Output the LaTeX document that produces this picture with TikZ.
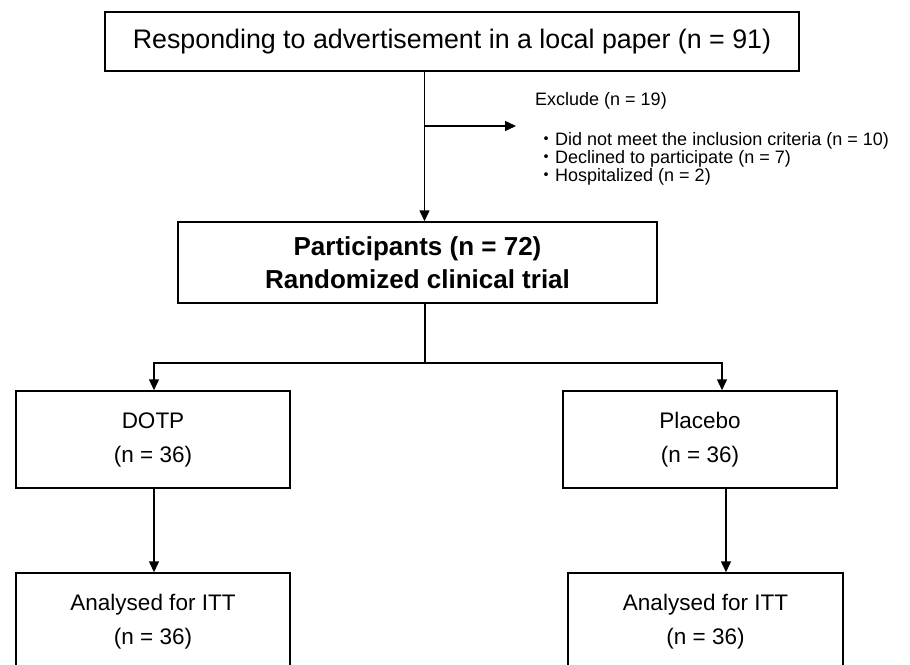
\documentclass[tikz,border=0pt]{standalone}
\usepackage{fontspec}
\setmainfont{Liberation Sans}
\newfontfamily\cjkfont{Noto Sans CJK JP}
\usetikzlibrary{arrows.meta}
\newcommand{\jdot}{\smash{\cjkfont ・}}
\begin{document}
\begin{tikzpicture}[x=1pt,y=-1pt,
  box/.style={draw=black, line width=1.5pt, inner sep=0pt, align=center},
  bigtext/.style={font=\fontsize{26.8}{32}\selectfont},
  boldtext/.style={font=\fontsize{26}{33}\selectfont\bfseries},
  boxtext/.style={font=\fontsize{22.5}{34}\selectfont},
  smalltext/.style={font=\fontsize{18}{18}\selectfont, inner sep=0pt, anchor=base west},
  conn/.style={line width=1.5pt},
  arr/.style={conn, -{Triangle[length=11pt,width=10pt]}}
]
\useasboundingbox (0,0) rectangle (910,664);
\clip (0,0) rectangle (910,664);

% boxes
\node[box, bigtext, minimum width=694pt, minimum height=59pt] (top) at (452,41.5)
  {Responding to advertisement in a local paper (n = 91)};
\node[box, boldtext, minimum width=479pt, minimum height=81pt] (part) at (417.5,262.5)
  {Participants (n = 72)\\Randomized clinical trial};
\node[box, boxtext, minimum width=274pt, minimum height=97pt] (dotp) at (153,439.5)
  {DOTP\\(n = 36)};
\node[box, boxtext, minimum width=274pt, minimum height=97pt] (plac) at (700,439.5)
  {Placebo\\(n = 36)};
\node[box, boxtext, minimum width=274pt, minimum height=97pt] (itt1) at (153,621.5)
  {Analysed for ITT\\(n = 36)};
\node[box, boxtext, minimum width=275pt, minimum height=97pt] (itt2) at (705.5,621.5)
  {Analysed for ITT\\(n = 36)};

% exclusion text
\node[smalltext] (excl) at (535,105.7) {Exclude (n = 19)};
\node[smalltext] (ex1) at (537,145) {\jdot Did not meet the inclusion criteria (n = 10)};
\node[smalltext] (ex2) at (537,163.2) {\jdot Declined to participate (n = 7)};
\node[smalltext] (ex3) at (537,181.4) {\jdot Hospitalized (n = 2)};

% helper coordinates
\coordinate (vx) at (424.5,0);
\coordinate (br) at (424.5,126);
\coordinate (brend) at (516,126);
\coordinate (sp) at (425,363);
\coordinate (lx) at (154,0);
\coordinate (rx) at (722,0);
\coordinate (rx2) at (726,0);

% connectors
\draw[arr] (top.south -| vx) -- (part.north -| vx);
\draw[arr] (br) -- (brend);
\draw[conn] (part.south -| sp) -- (sp);
\draw[arr] (sp) -| (dotp.north -| lx);
\draw[arr] (sp) -| (plac.north -| rx);
\draw[arr] (dotp.south -| lx) -- (itt1.north -| lx);
\draw[arr] (plac.south -| rx2) -- (itt2.north -| rx2);
\end{tikzpicture}
\end{document}
